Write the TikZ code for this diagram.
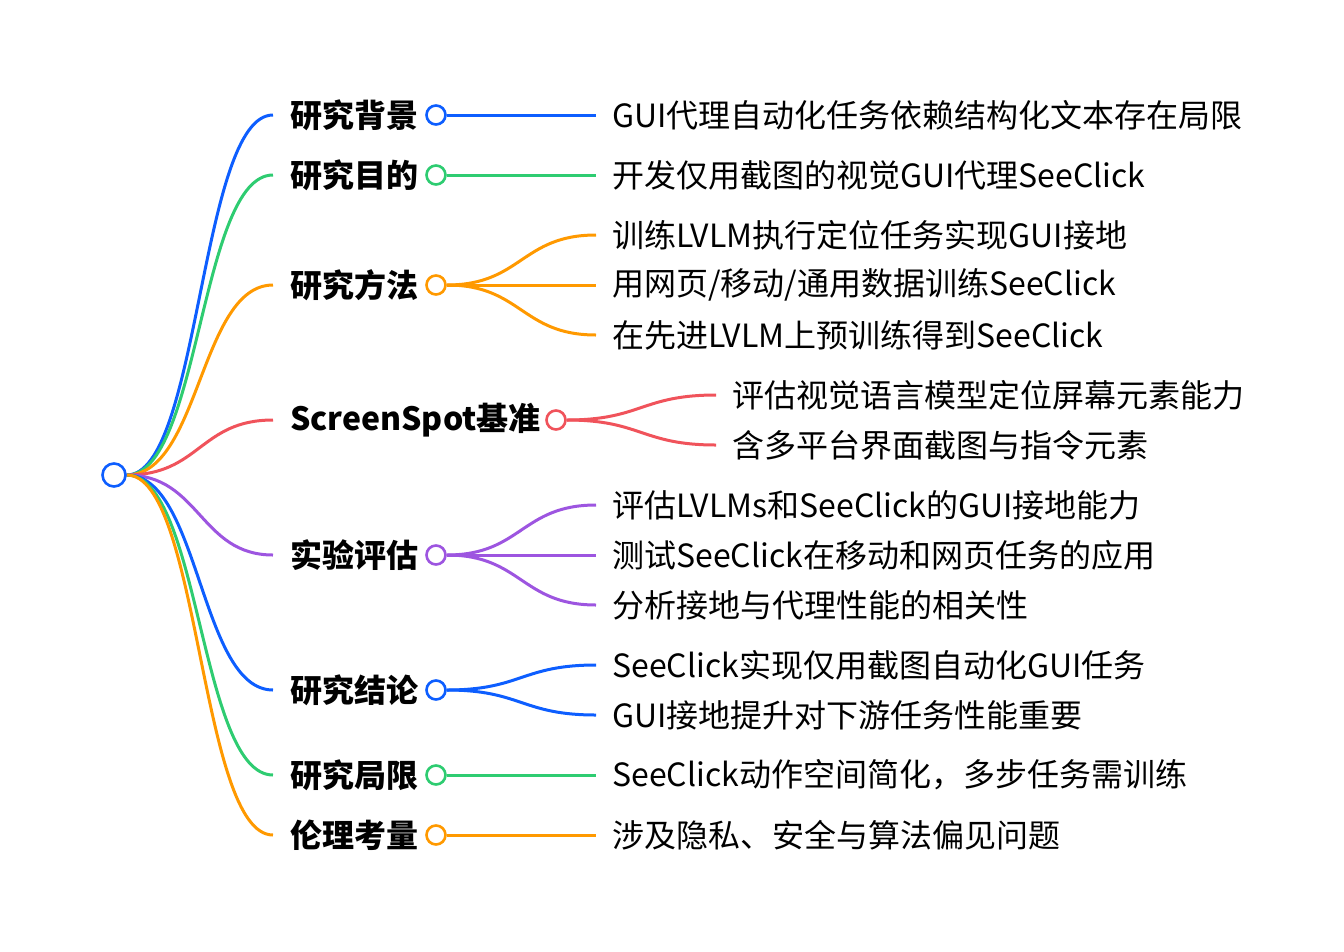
\documentclass[tikz,border=0pt]{standalone}
\usepackage{fontspec}
\setmainfont{Noto Sans CJK SC}
\usetikzlibrary{calc}
\definecolor{cB}{HTML}{0D5EFF}
\definecolor{cG}{HTML}{2ECC71}
\definecolor{cO}{HTML}{FF9900}
\definecolor{cR}{HTML}{F0535B}
\definecolor{cP}{HTML}{9D55E0}
\pgfdeclarelayer{bg}
\pgfsetlayers{bg,main}
\begin{document}
\begin{tikzpicture}[x=1pt,y=1pt,
  link/.style={to path={let \p1=(\tikztostart), \p2=(\tikztotarget) in
      .. controls ({0.5*\x1+0.5*\x2},\y1) and ({0.5*\x1+0.5*\x2},\y2) .. (\tikztotarget)}},
  edge line/.style={line width=3pt},
  dot/.style={circle, draw, fill=white, line width=2.6pt, minimum size=19pt, inner sep=0pt},
  lab/.style={anchor=west, font=\fontsize{32}{36}\selectfont\bfseries, inner sep=0pt},
  leaf/.style={anchor=west, font=\fontsize{32}{36}\selectfont, inner sep=0pt}]
\useasboundingbox (0,0) rectangle (1344,-951);

% root
\node[dot, draw=cB, minimum size=23pt] (root) at (114,-475) {};

% branch end points
\coordinate (e1) at (273,-115);
\coordinate (e2) at (273,-175);
\coordinate (e3) at (273,-285);
\coordinate (e4) at (273,-420);
\coordinate (e5) at (273,-555);
\coordinate (e6) at (273,-690);
\coordinate (e7) at (273,-775);
\coordinate (e8) at (273,-835);

% branch labels and circles
\node[lab] (l1) at (290,-115) {研究背景};
\node[lab] (l2) at (290,-175) {研究目的};
\node[lab] (l3) at (290,-285) {研究方法};
\node[lab] (l4) at (290,-420) {ScreenSpot基准};
\node[lab] (l5) at (290,-555) {实验评估};
\node[lab] (l6) at (290,-690) {研究结论};
\node[lab] (l7) at (290,-775) {研究局限};
\node[lab] (l8) at (290,-835) {伦理考量};

\node[dot, draw=cB] (d1) at (436,-115) {};
\node[dot, draw=cG] (d2) at (436,-175) {};
\node[dot, draw=cO] (d3) at (436,-285) {};
\node[dot, draw=cR] (d4) at (556,-420) {};
\node[dot, draw=cP] (d5) at (436,-555) {};
\node[dot, draw=cB] (d6) at (436,-690) {};
\node[dot, draw=cG] (d7) at (436,-775) {};
\node[dot, draw=cO] (d8) at (436,-835) {};

% leaf line ends
\coordinate (f1) at (596,-115);
\coordinate (f2) at (596,-175);
\coordinate (f3a) at (596,-235);
\coordinate (f3b) at (596,-285);
\coordinate (f3c) at (596,-335);
\coordinate (f4a) at (716,-395);
\coordinate (f4b) at (716,-445);
\coordinate (f5a) at (596,-505);
\coordinate (f5b) at (596,-555);
\coordinate (f5c) at (596,-605);
\coordinate (f6a) at (596,-665);
\coordinate (f6b) at (596,-715);
\coordinate (f7) at (596,-775);
\coordinate (f8) at (596,-835);

% leaf texts
\node[leaf] (t1) at (612,-115) {GUI代理自动化任务依赖结构化文本存在局限};
\node[leaf] (t2) at (612,-175) {开发仅用截图的视觉GUI代理SeeClick};
\node[leaf] (t3a) at (612,-235) {训练LVLM执行定位任务实现GUI接地};
\node[leaf] (t3b) at (612,-285) {用网页/移动/通用数据训练SeeClick};
\node[leaf] (t3c) at (612,-335) {在先进LVLM上预训练得到SeeClick};
\node[leaf] (t4a) at (732,-395) {评估视觉语言模型定位屏幕元素能力};
\node[leaf] (t4b) at (732,-445) {含多平台界面截图与指令元素};
\node[leaf] (t5a) at (612,-505) {评估LVLMs和SeeClick的GUI接地能力};
\node[leaf] (t5b) at (612,-555) {测试SeeClick在移动和网页任务的应用};
\node[leaf] (t5c) at (612,-605) {分析接地与代理性能的相关性};
\node[leaf] (t6a) at (612,-665) {SeeClick实现仅用截图自动化GUI任务};
\node[leaf] (t6b) at (612,-715) {GUI接地提升对下游任务性能重要};
\node[leaf] (t7) at (612,-775) {SeeClick动作空间简化，多步任务需训练};
\node[leaf] (t8) at (612,-835) {涉及隐私、安全与算法偏见问题};

\begin{pgfonlayer}{bg}
  \draw[edge line, cB] (root.east) to[link] (e1);
  \draw[edge line, cG] (root.east) to[link] (e2);
  \draw[edge line, cO] (root.east) to[link] (e3);
  \draw[edge line, cR] (root.east) to[link] (e4);
  \draw[edge line, cP] (root.east) to[link] (e5);
  \draw[edge line, cB] (root.east) to[link] (e6);
  \draw[edge line, cG] (root.east) to[link] (e7);
  \draw[edge line, cO] (root.east) to[link] (e8);

  \draw[edge line, cB] (d1.east) to[link] (f1);
  \draw[edge line, cG] (d2.east) to[link] (f2);
  \draw[edge line, cO] (d3.east) to[link] (f3a);
  \draw[edge line, cO] (d3.east) to[link] (f3b);
  \draw[edge line, cO] (d3.east) to[link] (f3c);
  \draw[edge line, cR] (d4.east) to[link] (f4a);
  \draw[edge line, cR] (d4.east) to[link] (f4b);
  \draw[edge line, cP] (d5.east) to[link] (f5a);
  \draw[edge line, cP] (d5.east) to[link] (f5b);
  \draw[edge line, cP] (d5.east) to[link] (f5c);
  \draw[edge line, cB] (d6.east) to[link] (f6a);
  \draw[edge line, cB] (d6.east) to[link] (f6b);
  \draw[edge line, cG] (d7.east) to[link] (f7);
  \draw[edge line, cO] (d8.east) to[link] (f8);
\end{pgfonlayer}
\end{tikzpicture}
\end{document}
